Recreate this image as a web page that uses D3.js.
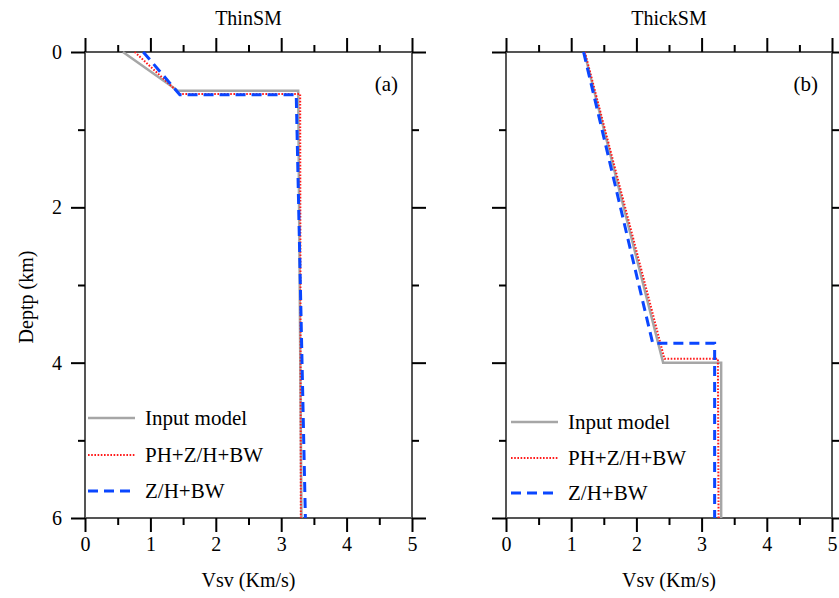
<!DOCTYPE html>
<html>
<head>
<meta charset="utf-8">
<script src="https://cdn.jsdelivr.net/npm/d3@7"></script>
<style>
  body { margin: 0; background: #fff; }
  svg text { font-family: "Liberation Serif", "Times New Roman", serif; fill: #000; }
</style>
</head>
<body>
<div id="chart"></div>
<script>
// axis ticks
const vsvMajor = [0, 1, 2, 3, 4, 5];
const vsvMinor = [0.5, 1.5, 2.5, 3.5, 4.5];
const depthMajor = [0, 2, 4, 6];
const depthMinor = [1, 3, 5];

const panelTitles = ["ThinSM", "ThickSM"];
const panelTags = ["(a)", "(b)"];
const seriesNames = ["Input model", "PH+Z/H+BW", "Z/H+BW"];

// ThinSM profiles (Vsv km/s, depth km)
const thinInputVs = [0.58, 1.42, 3.26, 3.31];
const thinInputDepth = [0, 0.50, 0.50, 6];
const thinJointVs = [0.76, 1.45, 3.29, 3.30];
const thinJointDepth = [0, 0.54, 0.54, 6];
const thinZhVs = [0.89, 1.45, 3.23, 3.37];
const thinZhDepth = [0, 0.55, 0.55, 6];

// ThickSM profiles
const thickInputVs = [1.20, 2.41, 3.30, 3.30];
const thickInputDepth = [0, 4.00, 4.00, 6];
const thickJointVs = [1.21, 2.43, 3.25, 3.26];
const thickJointDepth = [0, 3.95, 3.95, 6];
const thickZhVs = [1.19, 2.25, 3.20, 3.20];
const thickZhDepth = [0, 3.75, 3.75, 6];

const toPoints = (vs, dep) => vs.map((v, i) => ({ v: v, d: dep[i] }));

const panels = [
    {
        left: 85, right: 412, showYLabels: true, legendX: 88, legendY: [418, 455, 491],
        series: [
            toPoints(thinInputVs, thinInputDepth),
            toPoints(thinJointVs, thinJointDepth),
            toPoints(thinZhVs, thinZhDepth)
        ]
    },
    {
        left: 506, right: 832, showYLabels: false, legendX: 511, legendY: [422, 458, 493],
        series: [
            toPoints(thickInputVs, thickInputDepth),
            toPoints(thickJointVs, thickJointDepth),
            toPoints(thickZhVs, thickZhDepth)
        ]
    }
];

const styles = [
    { stroke: "#a6a6a6", width: 2.5, dash: null },
    { stroke: "#ff1a1a", width: 2, dash: "1.6,1.6" },
    { stroke: "#0a46ff", width: 3, dash: "10,6" }
];

const width = 839;
const height = 598;
const plotTop = 52;
const plotBottom = 518;

const svg = d3.select("#chart").append("svg")
    .attr("width", width)
    .attr("height", height);

const y = d3.scaleLinear().domain([0, 6]).range([plotTop, plotBottom]);

panels.forEach((p, pi) => {
    const x = d3.scaleLinear().domain([0, 5]).range([p.left, p.right]);
    const g = svg.append("g");

    // plot frame
    g.append("rect")
        .attr("x", p.left)
        .attr("y", plotTop)
        .attr("width", p.right - p.left)
        .attr("height", plotBottom - plotTop)
        .attr("fill", "none")
        .attr("stroke", "#555")
        .attr("stroke-width", 2);

    const addAxis = (axis, transform, labels) => {
        const a = g.append("g").attr("transform", transform).call(axis);
        a.select(".domain").remove();
        a.selectAll(".tick line").attr("stroke", "#000").attr("stroke-width", 2);
        if (!labels) a.selectAll(".tick text").remove();
        return a;
    };

    // x axes: bottom with labels, top without
    const xb = addAxis(d3.axisBottom(x).tickValues(vsvMajor).tickSize(14).tickPadding(5).tickFormat(d3.format("d")),
        `translate(0,${plotBottom})`, true);
    xb.selectAll(".tick text").style("font-size", "20px");
    addAxis(d3.axisBottom(x).tickValues(vsvMinor).tickSize(7), `translate(0,${plotBottom})`, false);
    addAxis(d3.axisTop(x).tickValues(vsvMajor).tickSize(14), `translate(0,${plotTop})`, false);
    addAxis(d3.axisTop(x).tickValues(vsvMinor).tickSize(7), `translate(0,${plotTop})`, false);

    // y axes: left and right
    const yl = addAxis(d3.axisLeft(y).tickValues(depthMajor).tickSize(14).tickPadding(9).tickFormat(d3.format("d")),
        `translate(${p.left},0)`, p.showYLabels);
    yl.selectAll(".tick text").style("font-size", "20px");
    addAxis(d3.axisLeft(y).tickValues(depthMinor).tickSize(7), `translate(${p.left},0)`, false);
    addAxis(d3.axisRight(y).tickValues(depthMajor).tickSize(14), `translate(${p.right},0)`, false);
    addAxis(d3.axisRight(y).tickValues(depthMinor).tickSize(7), `translate(${p.right},0)`, false);

    // profiles
    const line = d3.line().x(d => x(d.v)).y(d => y(d.d));
    p.series.forEach((s, si) => {
        g.append("path")
            .datum(s)
            .attr("d", line)
            .attr("fill", "none")
            .attr("stroke", styles[si].stroke)
            .attr("stroke-width", styles[si].width)
            .attr("stroke-dasharray", styles[si].dash);
    });

    // legend
    seriesNames.forEach((name, si) => {
        const ly = p.legendY[si];
        g.append("line")
            .attr("x1", p.legendX).attr("x2", p.legendX + 47)
            .attr("y1", ly).attr("y2", ly)
            .attr("stroke", styles[si].stroke)
            .attr("stroke-width", styles[si].width)
            .attr("stroke-dasharray", styles[si].dash);
        g.append("text")
            .attr("x", p.legendX + 57)
            .attr("y", ly)
            .attr("dy", "0.35em")
            .style("font-size", "21px")
            .text(name);
    });

    const mid = (p.left + p.right) / 2;
    g.append("text")
        .attr("x", mid).attr("y", 25)
        .attr("text-anchor", "middle")
        .style("font-size", "20px")
        .text(panelTitles[pi]);

    g.append("text")
        .attr("x", mid).attr("y", 587)
        .attr("text-anchor", "middle")
        .style("font-size", "20px")
        .text("Vsv (Km/s)");

    g.append("text")
        .attr("x", p.right - 14).attr("y", 91)
        .attr("text-anchor", "end")
        .style("font-size", "21px")
        .text(panelTags[pi]);
});

svg.append("text")
    .attr("transform", `translate(33,${(plotTop + plotBottom) / 2 + 12}) rotate(-90)`)
    .attr("text-anchor", "middle")
    .style("font-size", "20px")
    .text("Deptp (km)");
</script>
</body>
</html>
